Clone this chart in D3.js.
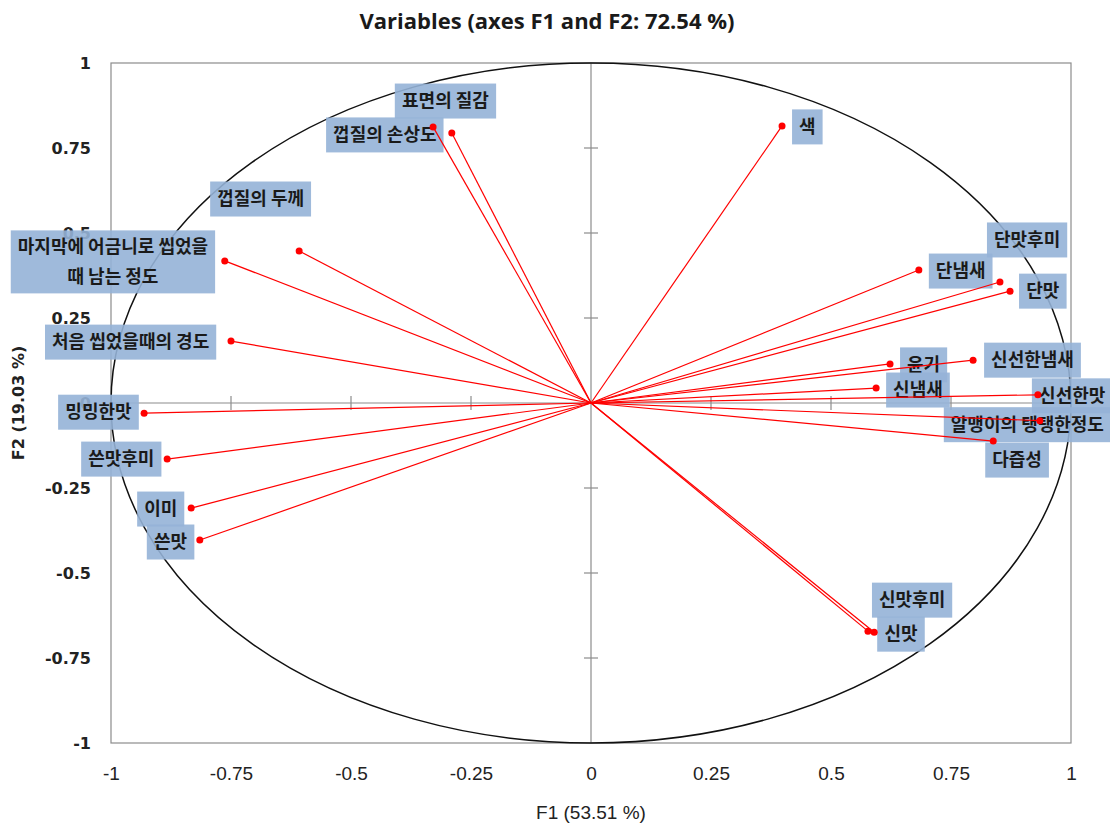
<!DOCTYPE html>
<html>
<head>
<meta charset="utf-8">
<script src="https://cdn.jsdelivr.net/npm/d3@7"></script>
<style>
  body { margin: 0; background: #fff; }
  svg { display: block; }
</style>
</head>
<body>
<div id="chart"></div>
<script>
// variables and their coordinates on F1 / F2
var variables = ["색", "표면의 질감", "껍질의 손상도", "껍질의 두께", "마지막에 어금니로 씹었을\n때 남는 정도",
  "처음 씹었을때의 경도", "밍밍한맛", "쓴맛후미", "이미", "쓴맛",
  "단냄새", "단맛후미", "단맛", "윤기", "신선한냄새",
  "신냄새", "신선한맛", "알맹이의 탱탱한정도", "다즙성", "신맛후미", "신맛"];
var f1 = [0.398, -0.290, -0.329, -0.608, -0.763,
  -0.750, -0.931, -0.883, -0.833, -0.815,
  0.683, 0.852, 0.873, 0.623, 0.796,
  0.594, 0.931, 0.935, 0.838, 0.577, 0.590];
var f2 = [0.815, 0.794, 0.812, 0.447, 0.418,
  0.182, -0.030, -0.165, -0.309, -0.403,
  0.391, 0.356, 0.329, 0.115, 0.126,
  0.044, 0.024, -0.052, -0.112, -0.671, -0.674];
var xTicks = [-1, -0.75, -0.5, -0.25, 0, 0.25, 0.5, 0.75, 1];
var yTicks = [-1, -0.75, -0.5, -0.25, 0, 0.25, 0.5, 0.75, 1];
var tickText = ["-1", "-0.75", "-0.5", "-0.25", "0", "0.25", "0.5", "0.75", "1"];

// label box placement (pixel offset of box left / box middle from the point)
var labelOffset = [[10, 1], [-57, -32], [-107, 8], [-89, -52], [-214, 1],
  [-186, 1], [-86, -1], [-86, 0], [-54, 1], [-53, 2],
  [10, 1], [-13, -42], [9, 0], [10, 1], [11, 0],
  [10, 2], [-6, 1], [-96, 4], [-8, 19], [4, -31], [3, 2]];

var width = 1110, height = 825;
var plot = {left: 111, right: 1071, top: 63, bottom: 743};

var svg = d3.select("#chart")
  .append("svg")
    .attr("width", width)
    .attr("height", height);

var x = d3.scaleLinear().domain([-1, 1]).range([plot.left, plot.right]);
var y = d3.scaleLinear().domain([-1, 1]).range([plot.bottom, plot.top]);

// title
svg.append("text")
  .attr("x", 547).attr("y", 29)
  .attr("text-anchor", "middle")
  .style("font-family", "'Open Sans', 'DejaVu Sans', sans-serif")
  .style("font-weight", "bold")
  .style("font-size", "22px")
  .style("fill", "#1a1a1a")
  .text("Variables (axes F1 and F2: 72.54 %)");

// frame
svg.append("rect")
  .attr("x", plot.left).attr("y", plot.top)
  .attr("width", plot.right - plot.left)
  .attr("height", plot.bottom - plot.top)
  .style("fill", "none")
  .style("stroke", "#8c8c8c")
  .style("stroke-width", 1.2);

// tick labels (outside the frame)
var xAxis = svg.append("g")
  .attr("transform", "translate(0," + (plot.bottom + 20) + ")")
  .call(d3.axisBottom(x).tickValues(xTicks).tickSize(0)
    .tickFormat(function(d, i) { return tickText[i]; }));
xAxis.select(".domain").remove();
xAxis.selectAll("text")
  .style("font-family", "'Liberation Sans Narrow', 'Liberation Sans', sans-serif")
  .style("font-size", "19px")
  .style("fill", "#222");

var yAxis = svg.append("g")
  .attr("transform", "translate(" + (plot.left - 20) + ",0)")
  .call(d3.axisLeft(y).tickValues(yTicks).tickSize(0)
    .tickFormat(function(d, i) { return tickText[i]; }));
yAxis.select(".domain").remove();
yAxis.selectAll("text")
  .attr("x", 0)
  .style("font-family", "'DejaVu Sans', sans-serif")
  .style("font-weight", "bold")
  .style("font-size", "16px")
  .style("fill", "#222");

// axis titles
svg.append("text")
  .attr("x", x(0)).attr("y", 819)
  .attr("text-anchor", "middle")
  .style("font-family", "'Liberation Sans Narrow', 'Liberation Sans', sans-serif")
  .style("font-size", "19px")
  .style("fill", "#222")
  .text("F1 (53.51 %)");

svg.append("text")
  .attr("transform", "translate(24," + y(0) + ") rotate(-90)")
  .attr("text-anchor", "middle")
  .style("font-family", "'DejaVu Sans', sans-serif")
  .style("font-weight", "bold")
  .style("font-size", "16px")
  .style("fill", "#222")
  .text("F2 (19.03 %)");

// axes through the origin with cross ticks
svg.append("line")
  .attr("x1", plot.left).attr("x2", plot.right)
  .attr("y1", y(0)).attr("y2", y(0))
  .style("stroke", "#8c8c8c").style("stroke-width", 1.2);
svg.append("line")
  .attr("x1", x(0)).attr("x2", x(0))
  .attr("y1", plot.top).attr("y2", plot.bottom)
  .style("stroke", "#8c8c8c").style("stroke-width", 1.2);
svg.append("g").selectAll("line")
  .data(xTicks.filter(function(d) { return d != 0 && Math.abs(d) != 1; }))
  .enter().append("line")
  .attr("x1", function(d) { return x(d); }).attr("x2", function(d) { return x(d); })
  .attr("y1", y(0) - 7).attr("y2", y(0) + 7)
  .style("stroke", "#8c8c8c").style("stroke-width", 1.2);
svg.append("g").selectAll("line")
  .data(yTicks.filter(function(d) { return d != 0 && Math.abs(d) != 1; }))
  .enter().append("line")
  .attr("y1", function(d) { return y(d); }).attr("y2", function(d) { return y(d); })
  .attr("x1", x(0) - 7).attr("x2", x(0) + 7)
  .style("stroke", "#8c8c8c").style("stroke-width", 1.2);

// correlation circle
svg.append("ellipse")
  .attr("cx", x(0)).attr("cy", y(0))
  .attr("rx", x(1) - x(0)).attr("ry", y(0) - y(1))
  .style("fill", "none")
  .style("stroke", "#111")
  .style("stroke-width", 1.5);

var data = variables.map(function(v, i) {
  return {name: v, f1: f1[i], f2: f2[i], off: labelOffset[i]};
});

// label boxes
var labels = svg.append("g").selectAll("g")
  .data(data).enter().append("g");

labels.each(function(d) {
  var g = d3.select(this);
  var lines = d.name.split("\n");
  var px = x(d.f1), py = y(d.f2);
  var t = g.append("text")
    .attr("text-anchor", "middle")
    .style("font-family", "'Noto Sans CJK KR', sans-serif")
    .style("font-size", "18px")
    .style("font-weight", "bold")
    .style("fill", "#1a1a1a");
  lines.forEach(function(l, k) {
    t.append("tspan").attr("x", 0).attr("y", k * 30).text(l);
  });
  var bb = t.node().getBBox();
  var w = bb.width + 14;
  var h = lines.length > 1 ? 63 : 35;
  var bx = px + d.off[0], by = py + d.off[1] - h / 2;
  g.insert("rect", "text")
    .attr("x", bx).attr("y", by)
    .attr("width", w).attr("height", h)
    .style("fill", "#95b3d7")
    .style("fill-opacity", 0.9);
  var lineY0 = by + h / 2 - (lines.length - 1) * 15 + 6;
  t.attr("transform", "translate(" + (bx + w / 2) + "," + lineY0 + ")");
});

// vectors
svg.append("g").selectAll("line")
  .data(data).enter().append("line")
  .attr("x1", x(0)).attr("y1", y(0))
  .attr("x2", function(d) { return x(d.f1); })
  .attr("y2", function(d) { return y(d.f2); })
  .style("stroke", "#ff0000")
  .style("stroke-width", 1.2);

svg.append("g").selectAll("circle")
  .data(data).enter().append("circle")
  .attr("cx", function(d) { return x(d.f1); })
  .attr("cy", function(d) { return y(d.f2); })
  .attr("r", 3.5)
  .style("fill", "#ff0000");
</script>
</body>
</html>
